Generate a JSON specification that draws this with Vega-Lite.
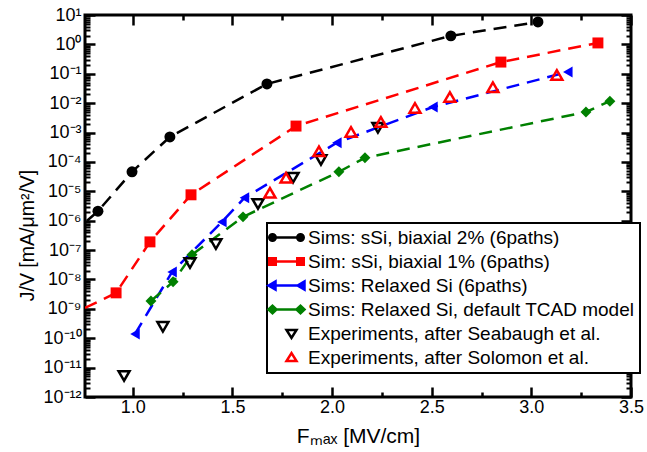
{
  "$schema": "https://vega.github.io/schema/vega-lite/v6.json",
  "width": 546,
  "height": 382,
  "autosize": {"type": "none"},
  "padding": {"left": 85, "top": 15, "right": 16, "bottom": 55},
  "background": "white",
  "config": {
    "font": "Liberation Sans",
    "view": {"stroke": "black", "strokeWidth": 3},
    "axis": {
      "domain": false, "ticks": true,
      "tickColor": "black", "tickWidth": 2.5, "tickOpacity": 1,
      "labelColor": "black", "titleColor": "black",
      "grid": false, "labelFont": "Liberation Sans", "titleFont": "Liberation Sans",
      "titleFontWeight": "normal", "labelFlush": false, "labelOverlap": false, "zindex": 1
    },
    "axisX": {"ticks": true, "tickColor": "black", "tickOpacity": 1},
    "axisY": {"ticks": true, "tickColor": "black", "tickOpacity": 1}
  },
  "datasets": {
    "sims": [
      {"F": 0.77, "J": 1.0e-6, "s": "Sims: sSi, biaxial 2% (6paths)"},
      {"F": 0.825, "J": 2.1e-6, "s": "Sims: sSi, biaxial 2% (6paths)"},
      {"F": 0.996, "J": 4.6e-5, "s": "Sims: sSi, biaxial 2% (6paths)"},
      {"F": 1.186, "J": 7.1e-4, "s": "Sims: sSi, biaxial 2% (6paths)"},
      {"F": 1.673, "J": 0.045, "s": "Sims: sSi, biaxial 2% (6paths)"},
      {"F": 2.596, "J": 1.95, "s": "Sims: sSi, biaxial 2% (6paths)"},
      {"F": 3.033, "J": 5.8, "s": "Sims: sSi, biaxial 2% (6paths)"},
      {"F": 0.76, "J": 1.07e-9, "s": "Sim: sSi, biaxial 1% (6paths)"},
      {"F": 0.916, "J": 3.5e-9, "s": "Sim: sSi, biaxial 1% (6paths)"},
      {"F": 1.086, "J": 1.9e-7, "s": "Sim: sSi, biaxial 1% (6paths)"},
      {"F": 1.292, "J": 7.6e-6, "s": "Sim: sSi, biaxial 1% (6paths)"},
      {"F": 1.819, "J": 1.66e-3, "s": "Sim: sSi, biaxial 1% (6paths)"},
      {"F": 2.847, "J": 0.25, "s": "Sim: sSi, biaxial 1% (6paths)"},
      {"F": 3.334, "J": 1.12, "s": "Sim: sSi, biaxial 1% (6paths)"},
      {"F": 1.011, "J": 1.4e-10, "s": "Sims: Relaxed Si (6paths)"},
      {"F": 1.197, "J": 1.8e-8, "s": "Sims: Relaxed Si (6paths)"},
      {"F": 1.447, "J": 9.1e-7, "s": "Sims: Relaxed Si (6paths)"},
      {"F": 1.56, "J": 6.0e-6, "s": "Sims: Relaxed Si (6paths)"},
      {"F": 2.024, "J": 4.5e-4, "s": "Sims: Relaxed Si (6paths)"},
      {"F": 2.506, "J": 7.4e-3, "s": "Sims: Relaxed Si (6paths)"},
      {"F": 3.183, "J": 0.115, "s": "Sims: Relaxed Si (6paths)"},
      {"F": 1.091, "J": 1.86e-9, "s": "Sims: Relaxed Si, default TCAD model"},
      {"F": 1.202, "J": 8.3e-9, "s": "Sims: Relaxed Si, default TCAD model"},
      {"F": 1.297, "J": 6.9e-8, "s": "Sims: Relaxed Si, default TCAD model"},
      {"F": 1.553, "J": 1.35e-6, "s": "Sims: Relaxed Si, default TCAD model"},
      {"F": 2.034, "J": 4.6e-5, "s": "Sims: Relaxed Si, default TCAD model"},
      {"F": 2.165, "J": 1.38e-4, "s": "Sims: Relaxed Si, default TCAD model"},
      {"F": 3.274, "J": 5.0e-3, "s": "Sims: Relaxed Si, default TCAD model"},
      {"F": 3.394, "J": 0.0117, "s": "Sims: Relaxed Si, default TCAD model"}
    ],
    "exps": [
      {"F": 0.956, "J": 5.2e-12, "s": "Experiments, after Seabaugh et al."},
      {"F": 1.151, "J": 2.45e-10, "s": "Experiments, after Seabaugh et al."},
      {"F": 1.287, "J": 3.6e-8, "s": "Experiments, after Seabaugh et al."},
      {"F": 1.417, "J": 1.6e-7, "s": "Experiments, after Seabaugh et al."},
      {"F": 1.628, "J": 3.7e-6, "s": "Experiments, after Seabaugh et al."},
      {"F": 1.804, "J": 2.9e-5, "s": "Experiments, after Seabaugh et al."},
      {"F": 1.944, "J": 1.17e-4, "s": "Experiments, after Seabaugh et al."},
      {"F": 2.23, "J": 1.45e-3, "s": "Experiments, after Seabaugh et al."},
      {"F": 1.688, "J": 8.9e-6, "s": "Experiments, after Solomon et al."},
      {"F": 1.769, "J": 2.9e-5, "s": "Experiments, after Solomon et al."},
      {"F": 1.934, "J": 2.3e-4, "s": "Experiments, after Solomon et al."},
      {"F": 2.095, "J": 1.05e-3, "s": "Experiments, after Solomon et al."},
      {"F": 2.245, "J": 2.3e-3, "s": "Experiments, after Solomon et al."},
      {"F": 2.416, "J": 6.9e-3, "s": "Experiments, after Solomon et al."},
      {"F": 2.591, "J": 0.0162, "s": "Experiments, after Solomon et al."},
      {"F": 2.807, "J": 0.035, "s": "Experiments, after Solomon et al."},
      {"F": 3.128, "J": 0.091, "s": "Experiments, after Solomon et al."}
    ]
  },
  "layer": [
    {
      "data": {"name": "sims"},
      "mark": {"type": "line", "strokeDash": [13, 8], "strokeWidth": 2.5, "clip": true},
      "encoding": {
        "x": {
          "field": "F", "type": "quantitative",
          "scale": {"domain": [0.76, 3.5], "nice": false, "zero": false},
          "axis": {
            "orient": "bottom", "values": [1, 1.5, 2, 2.5, 3, 3.5], "offset": -10,
            "ticks": true, "tickSize": 10, "tickColor": "black", "tickWidth": 2.5, "tickOpacity": 1,
            "format": ".1f", "labelFontSize": 18, "labelPadding": 1,
            "title": "Fₘₐₓ [MV/cm]", "titleFontSize": 21, "titleY": 55, "titleBaseline": "alphabetic"
          }
        },
        "y": {
          "field": "J", "type": "quantitative",
          "scale": {"type": "log", "domain": [1e-12, 10], "nice": false},
          "axis": {
            "orient": "left",
            "values": [1e-12, 1e-11, 1e-10, 1e-9, 1e-8, 1e-7, 1e-6, 1e-5, 1e-4, 1e-3, 1e-2, 1e-1, 1, 10],
            "offset": -10,
            "ticks": true, "tickSize": 10, "tickColor": "black", "tickWidth": 2.5, "tickOpacity": 1,
            "labelExpr": "'10' + (round(log(datum.value)/LN10) < 0 ? '⁻' : '') + (abs(round(log(datum.value)/LN10)) >= 10 ? '¹' : '') + substring('⁰¹²³⁴⁵⁶⁷⁸⁹', abs(round(log(datum.value)/LN10)) % 10, abs(round(log(datum.value)/LN10)) % 10 + 1)",
            "labelFontSize": 18, "labelPadding": 4,
            "title": "J/V [mA/μm²/V]", "titleFontSize": 19.5, "titleX": -62, "titleY": 220, "titleAlign": "center", "titleBaseline": "alphabetic"
          }
        },
        "color": {
          "field": "s", "type": "nominal", "legend": null,
          "scale": {
            "domain": ["Experiments, after Solomon et al.", "Experiments, after Seabaugh et al.", "Sims: Relaxed Si, default TCAD model", "Sims: Relaxed Si (6paths)", "Sim: sSi, biaxial 1% (6paths)", "Sims: sSi, biaxial 2% (6paths)"],
            "range": ["#ff0000", "#000000", "#008000", "#0000ff", "#ff0000", "#000000"]
          }
        },
        "opacity": {
          "field": "s", "type": "nominal",
          "scale": {
            "domain": ["Sims: sSi, biaxial 2% (6paths)", "Sim: sSi, biaxial 1% (6paths)", "Sims: Relaxed Si (6paths)", "Sims: Relaxed Si, default TCAD model", "Experiments, after Seabaugh et al.", "Experiments, after Solomon et al."],
            "range": [1, 1, 1, 1, 1, 1]
          },
          "legend": {
            "title": null, "orient": "none", "legendX": 182, "legendY": 208,
            "padding": 5, "strokeColor": "black", "fillColor": "white", "cornerRadius": 0,
            "labelFontSize": 19, "labelFont": "Liberation Sans", "labelColor": "black", "labelLimit": 0,
            "rowPadding": 4, "symbolSize": 100, "symbolOffset": 5, "labelOffset": 12,
            "encode": {
              "legend": {"update": {"strokeWidth": {"value": 2}}},
              "symbols": {
                "update": {
                  "shape": {"signal": "['M-2.8,0H2.8M-3.45,0A0.65,0.65 0 1,0 -2.15,0A0.65,0.65 0 1,0 -3.45,0ZM2.15,0A0.65,0.65 0 1,0 3.45,0A0.65,0.65 0 1,0 2.15,0Z', 'M-2.8,0H2.8M-3.45,-0.65H-2.15V0.65H-3.45ZM2.15,-0.65H3.45V0.65H2.15Z', 'M-2.8,0H2.8M-3.6,0L-2.2,-0.8L-2.2,0.8ZM2.2,0L3.6,-0.8L3.6,0.8Z', 'M-2.8,0H2.8M-3.6,0L-2.8,-0.75L-2,0L-2.8,0.75ZM2,0L2.8,-0.75L3.6,0L2.8,0.75Z', 'M0,-0.7H2L1,0.9Z', 'M0,0.7H2L1,-0.9Z'][indexof(domain('opacity'), datum.value)]"},
                  "fill": {"signal": "['#000000', '#ff0000', '#0000ff', '#008000', '#ffffff', '#ffffff'][indexof(domain('opacity'), datum.value)]"},
                  "stroke": {"signal": "['#000000', '#ff0000', '#0000ff', '#008000', '#000000', '#ff0000'][indexof(domain('opacity'), datum.value)]"},
                  "strokeWidth": {"value": 2.5},
                  "strokeDash": {"value": []},
                  "fillOpacity": {"value": 1},
                  "strokeOpacity": {"value": 1},
                  "size": {"value": 100}
                }
              }
            }
          }
        },
        "order": {"field": "F", "type": "quantitative"}
      }
    },
    {
      "data": {"name": "sims"},
      "transform": [{"filter": "datum.F > 0.78"}],
      "mark": {"type": "point", "filled": true, "opacity": 1, "clip": true},
      "encoding": {
        "x": {
          "field": "F", "type": "quantitative",
          "scale": {"domain": [0.76, 3.5], "nice": false, "zero": false},
          "axis": {"orient": "top", "values": [1, 1.5, 2, 2.5, 3, 3.5], "offset": -10, "ticks": true, "tickSize": 10, "tickColor": "black", "tickWidth": 2.5, "tickOpacity": 1, "labels": false, "title": null}
        },
        "y": {
          "field": "J", "type": "quantitative",
          "scale": {"type": "log", "domain": [1e-12, 10], "nice": false},
          "axis": {"orient": "right", "values": [1e-12, 1e-11, 1e-10, 1e-9, 1e-8, 1e-7, 1e-6, 1e-5, 1e-4, 1e-3, 1e-2, 1e-1, 1, 10], "offset": -10, "ticks": true, "tickSize": 10, "tickColor": "black", "tickWidth": 2.5, "tickOpacity": 1, "labels": false, "title": null}
        },
        "color": {"field": "s", "type": "nominal", "legend": null},
        "shape": {
          "field": "s", "type": "nominal", "legend": null,
          "scale": {
            "domain": ["Experiments, after Solomon et al.", "Experiments, after Seabaugh et al.", "Sims: Relaxed Si, default TCAD model", "Sims: Relaxed Si (6paths)", "Sim: sSi, biaxial 1% (6paths)", "Sims: sSi, biaxial 2% (6paths)"],
            "range": ["triangle-up", "triangle-down", "diamond", "triangle-left", "square", "circle"]
          }
        },
        "size": {
          "field": "s", "type": "nominal", "legend": null,
          "scale": {
            "domain": ["Experiments, after Solomon et al.", "Experiments, after Seabaugh et al.", "Sims: Relaxed Si, default TCAD model", "Sims: Relaxed Si (6paths)", "Sim: sSi, biaxial 1% (6paths)", "Sims: sSi, biaxial 2% (6paths)"],
            "range": [120, 120, 70, 80, 85, 50]
          }
        }
      }
    },
    {
      "data": {"name": "exps"},
      "transform": [{"filter": "datum.s === 'Experiments, after Seabaugh et al.'"}],
      "mark": {"type": "point", "filled": false, "strokeWidth": 2.5, "opacity": 1, "clip": true},
      "encoding": {
        "x": {
          "field": "F", "type": "quantitative", "scale": {"domain": [0.76, 3.5], "nice": false, "zero": false},
          "axis": {"orient": "bottom", "values": [1.25, 1.75, 2.25, 2.75, 3.25], "offset": -5, "ticks": true, "tickSize": 5, "tickColor": "black", "tickWidth": 2.5, "tickOpacity": 1, "labels": false, "title": null}
        },
        "y": {
          "field": "J", "type": "quantitative", "scale": {"type": "log", "domain": [1e-12, 10], "nice": false},
          "axis": {
            "orient": "left", "offset": -5, "ticks": true, "tickSize": 5, "tickColor": "black", "tickWidth": 2, "tickOpacity": 1, "labels": false, "title": null,
            "values": [2e-12,3e-12,4e-12,5e-12,6e-12,7e-12,8e-12,9e-12,2e-11,3e-11,4e-11,5e-11,6e-11,7e-11,8e-11,9e-11,2e-10,3e-10,4e-10,5e-10,6e-10,7e-10,8e-10,9e-10,2e-9,3e-9,4e-9,5e-9,6e-9,7e-9,8e-9,9e-9,2e-8,3e-8,4e-8,5e-8,6e-8,7e-8,8e-8,9e-8,2e-7,3e-7,4e-7,5e-7,6e-7,7e-7,8e-7,9e-7,2e-6,3e-6,4e-6,5e-6,6e-6,7e-6,8e-6,9e-6,2e-5,3e-5,4e-5,5e-5,6e-5,7e-5,8e-5,9e-5,2e-4,3e-4,4e-4,5e-4,6e-4,7e-4,8e-4,9e-4,2e-3,3e-3,4e-3,5e-3,6e-3,7e-3,8e-3,9e-3,2e-2,3e-2,4e-2,5e-2,6e-2,7e-2,8e-2,9e-2,2e-1,3e-1,4e-1,5e-1,6e-1,7e-1,8e-1,9e-1,2,3,4,5,6,7,8,9]
          }
        },
        "color": {"field": "s", "type": "nominal", "legend": null},
        "shape": {"field": "s", "type": "nominal", "legend": null},
        "size": {"field": "s", "type": "nominal", "legend": null}
      }
    },
    {
      "data": {"name": "exps"},
      "transform": [{"filter": "datum.s === 'Experiments, after Solomon et al.'"}],
      "mark": {"type": "point", "filled": false, "strokeWidth": 2.5, "opacity": 1, "clip": true},
      "encoding": {
        "x": {
          "field": "F", "type": "quantitative", "scale": {"domain": [0.76, 3.5], "nice": false, "zero": false},
          "axis": {"orient": "top", "values": [1.25, 1.75, 2.25, 2.75, 3.25], "offset": -5, "ticks": true, "tickSize": 5, "tickColor": "black", "tickWidth": 2.5, "tickOpacity": 1, "labels": false, "title": null}
        },
        "y": {
          "field": "J", "type": "quantitative", "scale": {"type": "log", "domain": [1e-12, 10], "nice": false},
          "axis": {
            "orient": "right", "offset": -5, "ticks": true, "tickSize": 5, "tickColor": "black", "tickWidth": 2, "tickOpacity": 1, "labels": false, "title": null,
            "values": [2e-12,3e-12,4e-12,5e-12,6e-12,7e-12,8e-12,9e-12,2e-11,3e-11,4e-11,5e-11,6e-11,7e-11,8e-11,9e-11,2e-10,3e-10,4e-10,5e-10,6e-10,7e-10,8e-10,9e-10,2e-9,3e-9,4e-9,5e-9,6e-9,7e-9,8e-9,9e-9,2e-8,3e-8,4e-8,5e-8,6e-8,7e-8,8e-8,9e-8,2e-7,3e-7,4e-7,5e-7,6e-7,7e-7,8e-7,9e-7,2e-6,3e-6,4e-6,5e-6,6e-6,7e-6,8e-6,9e-6,2e-5,3e-5,4e-5,5e-5,6e-5,7e-5,8e-5,9e-5,2e-4,3e-4,4e-4,5e-4,6e-4,7e-4,8e-4,9e-4,2e-3,3e-3,4e-3,5e-3,6e-3,7e-3,8e-3,9e-3,2e-2,3e-2,4e-2,5e-2,6e-2,7e-2,8e-2,9e-2,2e-1,3e-1,4e-1,5e-1,6e-1,7e-1,8e-1,9e-1,2,3,4,5,6,7,8,9]
          }
        },
        "color": {"field": "s", "type": "nominal", "legend": null},
        "shape": {"field": "s", "type": "nominal", "legend": null},
        "size": {"field": "s", "type": "nominal", "legend": null}
      }
    }
  ],
  "resolve": {"axis": {"x": "independent", "y": "independent"}}
}
